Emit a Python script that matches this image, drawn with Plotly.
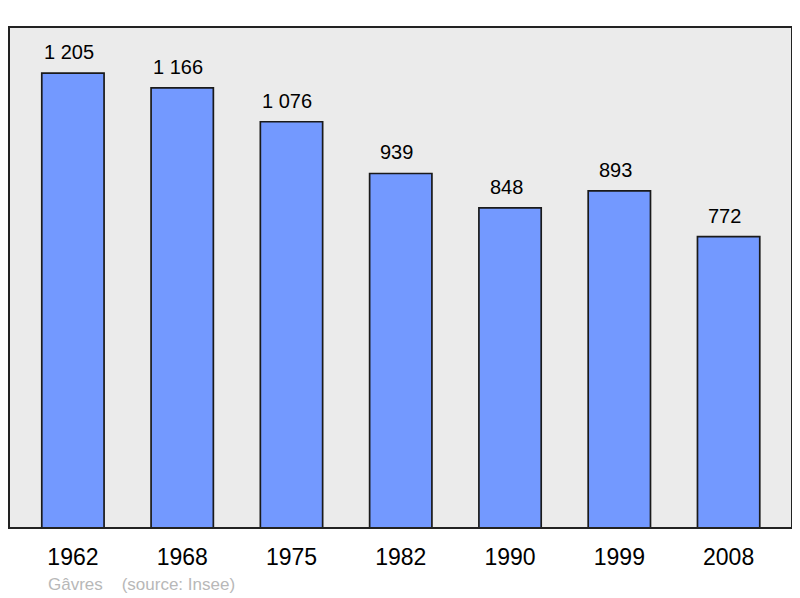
import plotly.graph_objects as go

years = ["1962", "1968", "1975", "1982", "1990", "1999", "2008"]
population = [1205, 1166, 1076, 939, 848, 893, 772]

def fmt(v):
    return f"{v:,}".replace(",", " ")

FONT = "Liberation Sans, Arial"

fig = go.Figure()
fig.add_trace(go.Bar(
    x=list(range(len(years))), y=population,
    width=0.57,
    marker=dict(color="#7399ff", line=dict(color="#1a1a1a", width=1.7)),
    hoverinfo="skip",
))

for i, v in enumerate(population):
    fig.add_annotation(x=i, y=v, text=fmt(v), showarrow=False,
                       yanchor="bottom", yshift=8, xshift=-4,
                       font=dict(family=FONT, size=20, color="#000"))

fig.add_annotation(xref="paper", yref="paper", x=(46-9)/783, y=-(584-528)/501,
                   xanchor="left", yanchor="middle", showarrow=False,
                   text="Gâvres\u00a0\u00a0\u00a0\u00a0(source: Insee)",
                   font=dict(family=FONT, size=17, color="#b8b8b8"))

fig.add_shape(type="rect", xref="paper", yref="paper", x0=0, y0=0, x1=1, y1=1,
              line=dict(color="#222222", width=2), layer="above")

# page body has an 8px margin: the figure starts at (8, 8)
fig.update_layout(
    width=792, height=590,
    margin=dict(l=1, r=8, t=19, b=70),
    paper_bgcolor="#ffffff", plot_bgcolor="#ebebeb",
    showlegend=False,
    xaxis=dict(tickmode="array", tickvals=list(range(len(years))), ticktext=years,
               range=[-0.585, 6.58], showgrid=False, zeroline=False,
               ticks="outside", ticklen=8, tickcolor="rgba(0,0,0,0)",
               tickfont=dict(family=FONT, size=23, color="#000")),
    yaxis=dict(range=[0, 1327], showgrid=False, zeroline=False, showticklabels=False),
)

fig.write_html("out.html")
